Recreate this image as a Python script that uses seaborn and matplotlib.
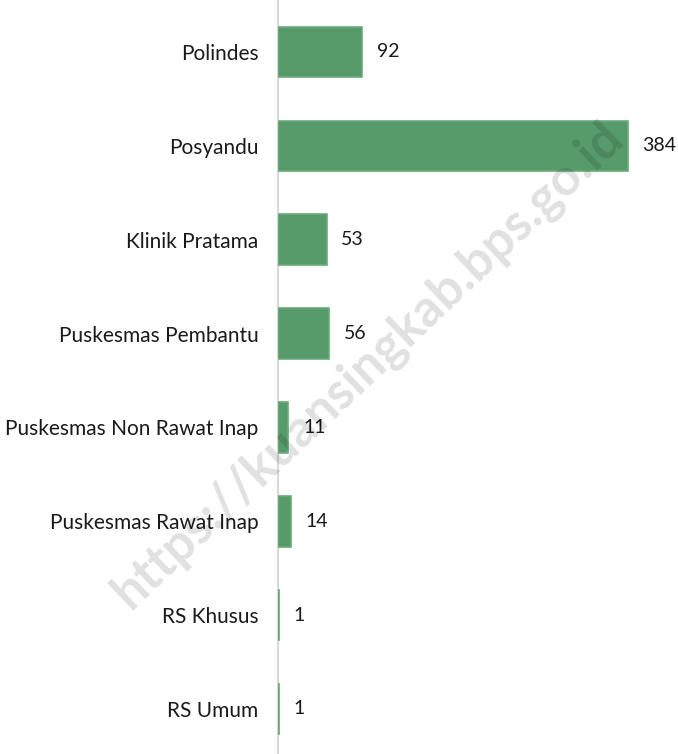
import numpy as np
import pandas as pd
import matplotlib
matplotlib.use('Agg')
import matplotlib.pyplot as plt
import seaborn as sns

categories = ['Polindes', 'Posyandu', 'Klinik Pratama', 'Puskesmas Pembantu',
              'Puskesmas Non Rawat Inap', 'Puskesmas Rawat Inap', 'RS Khusus', 'RS Umum']
values = [92, 384, 53, 56, 11, 14, 1, 1]
watermark = 'https://kuansingkab.bps.go.id'

sns.set_style('white')
plt.rcParams['font.family'] = ['Lato', 'DejaVu Sans']

df = pd.DataFrame({'Fasilitas': categories, 'Jumlah': values})

fig = plt.figure(figsize=(6.78, 7.54), dpi=100)
ax = fig.add_axes([278 / 678, 0, 400 / 678, 1])

sns.barplot(data=df, y='Fasilitas', x='Jumlah', orient='h', color='#579B6A',
            saturation=1, width=0.54, edgecolor='#6aab7b', linewidth=1.2, ax=ax)

ax.set_xlim(-0.5, 439)
ax.set_ylim(7.48, -0.554)
ax.set_xlabel('')
ax.set_ylabel('')
ax.set_xticks([])
for s in ['top', 'right', 'bottom']:
    ax.spines[s].set_visible(False)
ax.spines['left'].set_color('#d9d9d9')
ax.spines['left'].set_linewidth(1.5)
ax.spines['left'].set_zorder(0.5)
ax.tick_params(axis='y', length=0, pad=14, labelsize=15, labelcolor='#1a1a1a')

ax.bar_label(ax.containers[0], padding=10.5, fontsize=14, color='#1a1a1a')

fig.text(0.543, 0.516, watermark, rotation=43.5, ha='center', va='center',
         fontsize=37, fontweight='bold', color='#000000', alpha=0.12, zorder=10)

fig.savefig('out.png', dpi=100)
